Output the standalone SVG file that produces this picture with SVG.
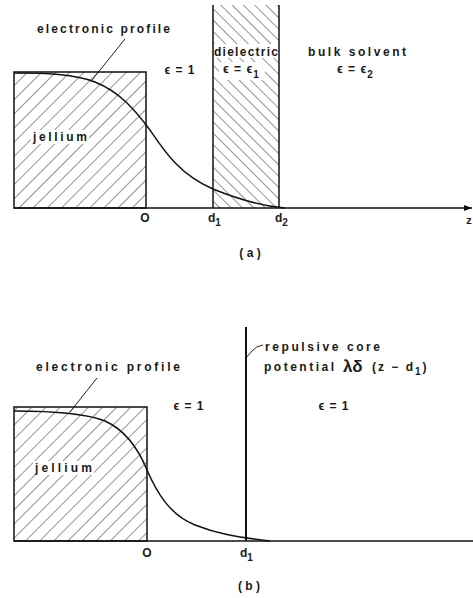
<svg xmlns="http://www.w3.org/2000/svg" width="473" height="598" viewBox="0 0 473 598">
<style>
.t{font-family:"Liberation Sans","DejaVu Sans",sans-serif;font-weight:bold;font-size:12px;fill:#1a1a1a}
.ln{stroke:#111;fill:none;stroke-width:1.5}
.box{stroke:#111;stroke-width:1.5}
.thin{stroke:#222;fill:none;stroke-width:1}
.hl{stroke:#2a2a2a;stroke-width:1}
</style>
<defs>
<pattern id="hatchJ" patternUnits="userSpaceOnUse" width="10" height="10" patternTransform="rotate(45)">
<line class="hl" x1="0" y1="0" x2="0" y2="10"/>
</pattern>
<pattern id="hatchD" patternUnits="userSpaceOnUse" width="8" height="8" patternTransform="rotate(-45)">
<line class="hl" x1="0" y1="0" x2="0" y2="8"/>
</pattern>
<marker id="arr" markerWidth="8" markerHeight="6" refX="8" refY="3" orient="auto" markerUnits="userSpaceOnUse">
<path d="M0,0 L8,3 L0,6 Z" fill="#111"/>
</marker>
</defs>
<rect width="473" height="598" fill="#fff"/>

<!-- Panel (a) -->
<g id="jellium-a">
<rect x="14" y="72" width="132" height="136" fill="url(#hatchJ)" class="box"/>
<rect x="31" y="130" width="58" height="14" fill="#fff"/>
<text class="t" x="33" y="141" textLength="54" lengthAdjust="spacing">jellium</text>
</g>
<g id="dielectric-a">
<rect x="213" y="5" width="66" height="203" fill="url(#hatchD)" stroke="none"/>
<line class="ln" x1="213" y1="5" x2="213" y2="208"/>
<line class="ln" x1="279" y1="5" x2="279" y2="208"/>
<rect x="214" y="44" width="64" height="14" fill="#fff"/>
<rect x="219" y="62" width="46" height="18" fill="#fff"/>
<text class="t" x="246" y="56" text-anchor="middle" textLength="64" lengthAdjust="spacing">dielectric</text>
<text class="t" x="223" y="73" letter-spacing="1">ϵ = ϵ<tspan dy="5" font-size="10">1</tspan></text>
</g>
<g id="labels-a">
<text class="t" x="37" y="33" textLength="133" lengthAdjust="spacing">electronic profile</text>
<text class="t" x="180" y="74" text-anchor="middle" letter-spacing="1">ϵ = 1</text>
<text class="t" x="308" y="56" textLength="98" lengthAdjust="spacing">bulk solvent</text>
<text class="t" x="337" y="73" letter-spacing="1">ϵ = ϵ<tspan dy="5" font-size="10">2</tspan></text>
<text class="t" x="145" y="222" text-anchor="middle">O</text>
<text class="t" x="208" y="222">d<tspan dy="4" font-size="10">1</tspan></text>
<text class="t" x="275" y="222">d<tspan dy="4" font-size="10">2</tspan></text>
<text class="t" x="469" y="224" text-anchor="middle" style="font-size:11px">z</text>
<text class="t" x="250" y="257" text-anchor="middle">( a )</text>
</g>
<g id="connectors">
<line class="ln" x1="14" y1="208" x2="472" y2="208" marker-end="url(#arr)"/>
<path class="ln" d="M14,73 C45,73 75,74 95,82 C120,92 135,110 150,130 C165,152 180,175 213,189 C240,200 262,206 285,208"/>
<line class="thin" x1="125" y1="39" x2="92" y2="80"/>

<line class="ln" x1="14" y1="541" x2="473" y2="541"/>
<path class="ln" d="M14,411 C50,411 85,413 105,421 C125,430 138,448 147,470 C157,493 170,515 195,525 C215,533 235,537 270,541"/>
<line class="thin" x1="97" y1="378" x2="70" y2="412"/>
<path class="thin" d="M246,358 L252,351 Q256,346 263,345"/>
</g>

<!-- Panel (b) -->
<g id="jellium-b">
<rect x="14" y="407" width="133" height="134" fill="url(#hatchJ)" class="box"/>
<rect x="33" y="461" width="61" height="14" fill="#fff"/>
<text class="t" x="35" y="472" textLength="57" lengthAdjust="spacing">jellium</text>
</g>
<g id="core-b">
<line x1="246" y1="327" x2="246" y2="541" stroke="#111" stroke-width="2"/>
</g>
<g id="labels-b">
<text class="t" x="36" y="371" textLength="144" lengthAdjust="spacing">electronic profile</text>
<text class="t" x="189" y="410" text-anchor="middle" letter-spacing="1">ϵ = 1</text>
<text class="t" x="334" y="410" text-anchor="middle" letter-spacing="1">ϵ = 1</text>
<text class="t" x="265" y="351" textLength="115" lengthAdjust="spacing">repulsive core</text>
<text class="t" x="264" y="371" textLength="70" lengthAdjust="spacing">potential</text>
<text class="t" x="343" y="372" style="font-size:17px">λδ</text>
<text class="t" x="372" y="371" letter-spacing="2">(z − d<tspan dy="4" font-size="10">1</tspan><tspan dy="-4">)</tspan></text>
<text class="t" x="147" y="557" text-anchor="middle">O</text>
<text class="t" x="240" y="557">d<tspan dy="4" font-size="10">1</tspan></text>
<text class="t" x="249" y="590" text-anchor="middle">( b )</text>
</g>
</svg>
